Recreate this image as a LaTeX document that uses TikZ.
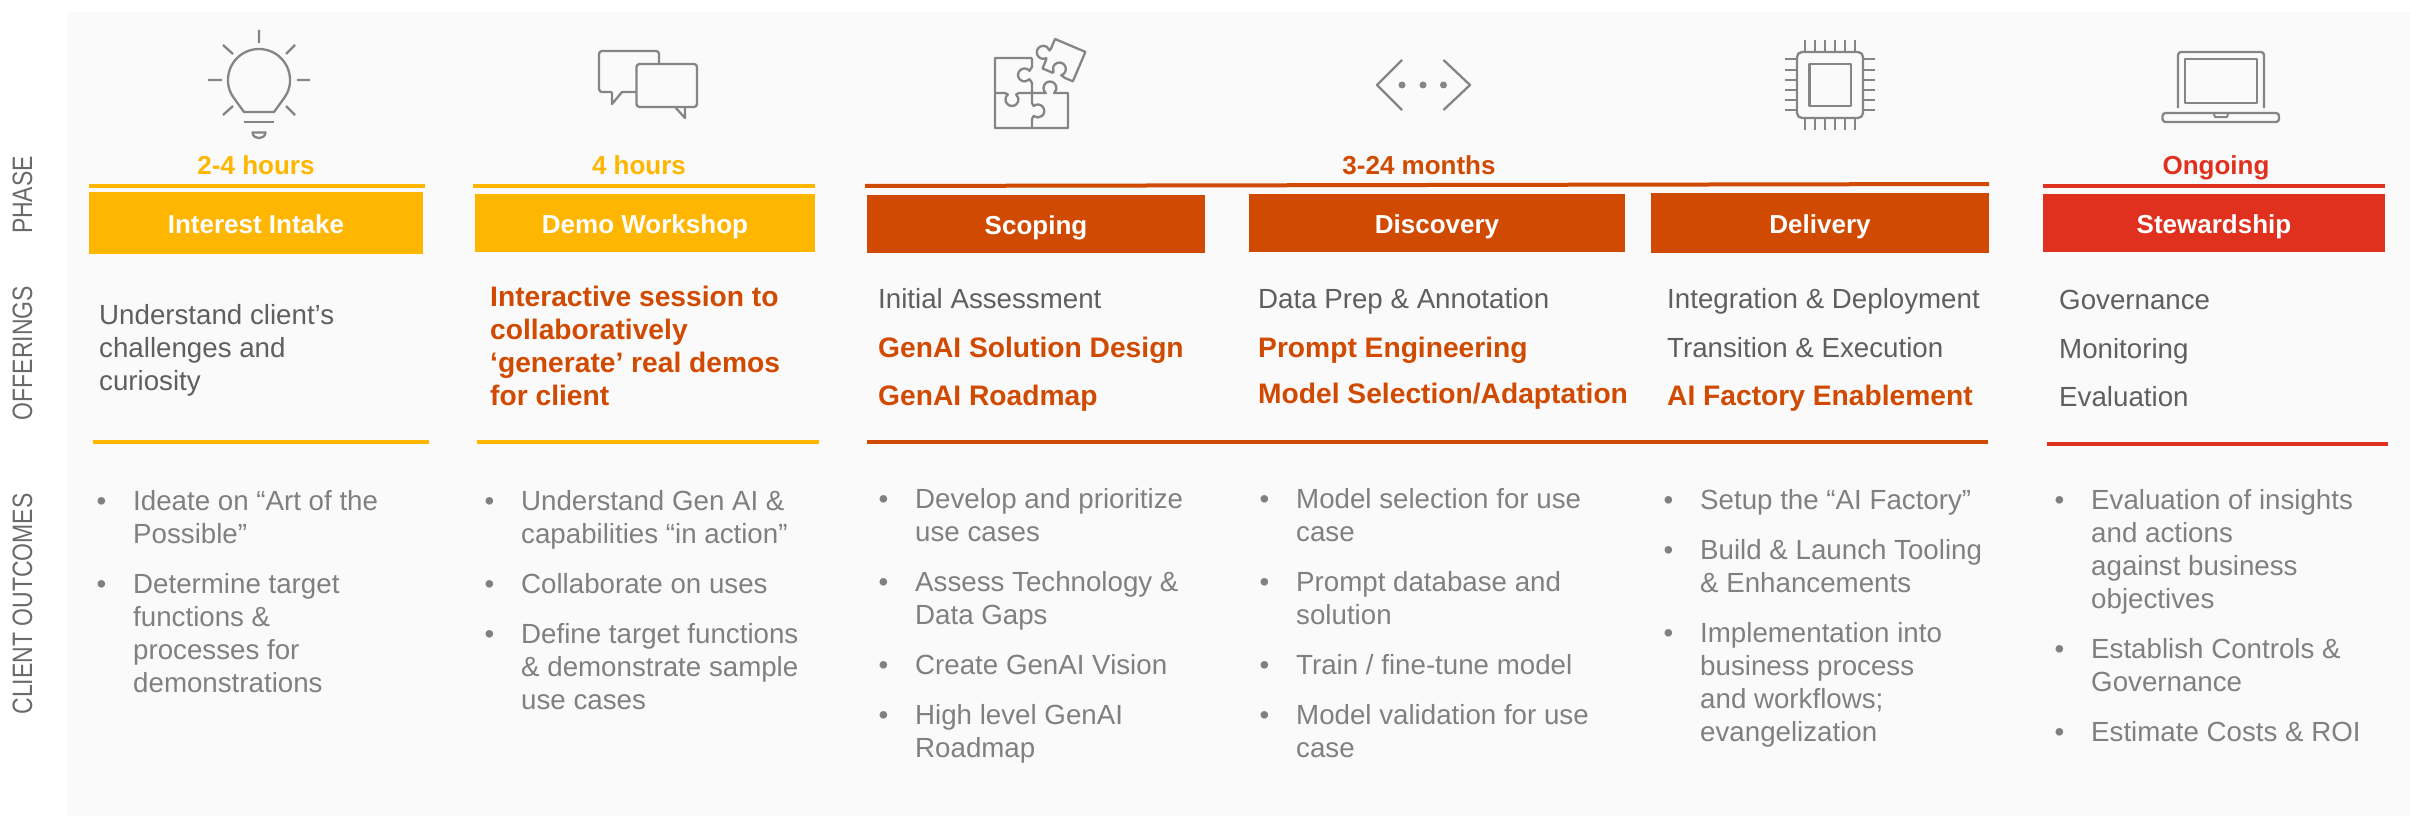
\documentclass[tikz,border=0pt]{standalone}
\usepackage{graphicx}
\usepackage{fontspec}
\setmainfont{Liberation Sans}
\definecolor{phaseyellow}{HTML}{FFB600}
\definecolor{phaseorange}{HTML}{D04A02}
\definecolor{phasered}{HTML}{E0301E}
\definecolor{panelgray}{HTML}{FAFAFA}
\definecolor{icongray}{HTML}{858585}
\definecolor{offergray}{HTML}{5F5F5F}
\definecolor{sidegray}{HTML}{6A6A6A}
\definecolor{outcomegray}{HTML}{808080}
\newcommand{\bul}{\makebox[0pt][r]{•\hspace{27pt}}}
\newcommand{\sidetext}[1]{\scalebox{1}[1.22]{#1}}
\begin{document}
\begin{tikzpicture}[x=1pt,y=-1pt,
            phasebar/.style={minimum height=58pt,inner sep=0pt,text=white,text height=24pt,text depth=4pt,
              font=\fontsize{26}{30}\selectfont\bfseries},
            timing/.style={anchor=base,font=\fontsize{26}{30}\selectfont\bfseries},
            rulebar/.style={line width=4pt},
            sidelabel/.style={anchor=base,rotate=90,text=sidegray,inner sep=0pt,font=\fontsize{23}{26}\selectfont},
            offer/.style={anchor=base west,align=left,inner sep=0pt,text=offergray,font=\fontsize{27.7}{33}\selectfont},
            offerbold/.style={offer,text=phaseorange,font=\fontsize{28.2}{33}\selectfont\bfseries},
            outcome/.style={anchor=base west,align=left,inner sep=0pt,text=outcomegray,font=\fontsize{27.7}{33}\selectfont},
            icon/.style={draw=icongray,line width=2.3pt,line join=round}]
              \useasboundingbox (0,0) rectangle (2410,816);
              \fill[panelgray] (67,12) rectangle (2410,816);

              \node[sidelabel] (phaselabel) at (32,195) {\sidetext{PHASE}};
              \node[sidelabel] (offerlabel) at (32,353) {\sidetext{OFFERINGS}};
              \node[sidelabel] (clientlabel) at (32,604) {\sidetext{CLIENT OUTCOMES}};

              \node[timing,text=phaseyellow] (timeintake) at (256,174) {2-4 hours};
              \node[timing,text=phaseyellow] (timedemo) at (639,174) {4 hours};
              \node[timing,text=phaseorange] (timeproject) at (1419,174) {3-24 months};
              \node[timing,text=phasered] (timesteward) at (2216,174) {Ongoing};

              \draw[rulebar,phaseyellow] (89,186) -- (425,186);
              \draw[rulebar,phaseyellow] (473,186) -- (815,186);
              \draw[rulebar,phaseorange] (865,186) -- (1989,184);
              \draw[rulebar,phasered] (2043,186) -- (2385,186);

              \node[phasebar,fill=phaseyellow,minimum width=334pt,minimum height=62pt] (intake) at (256,223) {Interest Intake};
              \node[phasebar,fill=phaseyellow,minimum width=340pt] (demo) at (645,223) {Demo Workshop};
              \node[phasebar,fill=phaseorange,minimum width=338pt] (scoping) at (1036,224) {Scoping};
              \node[phasebar,fill=phaseorange,minimum width=376pt] (discovery) at (1437,223) {Discovery};
              \node[phasebar,fill=phaseorange,minimum width=338pt,minimum height=60pt] (delivery) at (1820,223) {Delivery};
              \node[phasebar,fill=phasered,minimum width=342pt] (stewardship) at (2214,223) {Stewardship};

              \node[offer] (offerintake) at (99,390) {Understand client’s\\challenges and\\curiosity};
              \node[offerbold] (offerdemo) at (490,405) {Interactive session to\\collaboratively\\‘generate’ real demos\\for client};
              \node[offer] (scopinga) at (878,308) {Initial Assessment};
              \node[offerbold] (scopingb) at (878,357) {GenAI Solution Design};
              \node[offerbold] (scopingc) at (878,405) {GenAI Roadmap};
              \node[offer] (discoverya) at (1258,308) {Data Prep \& Annotation};
              \node[offerbold] (discoveryb) at (1258,357) {Prompt Engineering};
              \node[offerbold] (discoveryc) at (1258,403) {Model Selection/Adaptation};
              \node[offer] (deliverya) at (1667,308) {Integration \& Deployment};
              \node[offer] (deliveryb) at (1667,357) {Transition \& Execution};
              \node[offerbold] (deliveryc) at (1667,405) {AI Factory Enablement};
              \node[offer] (stewarda) at (2059,309) {Governance};
              \node[offer] (stewardb) at (2059,358) {Monitoring};
              \node[offer] (stewardc) at (2059,406) {Evaluation};

              \draw[rulebar,phaseyellow] (93,442) -- (429,442);
              \draw[rulebar,phaseyellow] (477,442) -- (819,442);
              \draw[rulebar,phaseorange] (867,442) -- (1988,442);
              \draw[rulebar,phasered] (2047,444) -- (2388,444);

              \node[outcome] (outintake) at (133,692) {\bul Ideate on “Art of the\\Possible”\\[17pt]
                \bul Determine target\\functions \&\\processes for\\demonstrations};
              \node[outcome] (outdemo) at (521,709) {\bul Understand Gen AI \&\\capabilities “in action”\\[17pt]
                \bul Collaborate on uses\\[17pt]
                \bul Define target functions\\\& demonstrate sample\\use cases};
              \node[outcome] (outscoping) at (915,757) {\bul Develop and prioritize\\use cases\\[17pt]
                \bul Assess Technology \&\\Data Gaps\\[17pt]
                \bul Create GenAI Vision\\[17pt]
                \bul High level GenAI\\Roadmap};
              \node[outcome] (outdiscovery) at (1296,757) {\bul Model selection for use\\case\\[17pt]
                \bul Prompt database and\\solution\\[17pt]
                \bul Train / fine-tune model\\[17pt]
                \bul Model validation for use\\case};
              \node[outcome] (outdelivery) at (1700,741) {\bul Setup the “AI Factory”\\[17pt]
                \bul Build \& Launch Tooling\\\& Enhancements\\[17pt]
                \bul Implementation into\\business process\\and workflows;\\evangelization};
              \node[outcome] (outsteward) at (2091,741) {\bul Evaluation of insights\\and actions\\against business\\objectives\\[17pt]
                \bul Establish Controls \&\\Governance\\[17pt]
                \bul Estimate Costs \& ROI};

              \draw[icon] (244,112) -- (236,101) .. controls (230,93) and (228,88) .. (228,80)
                arc[start angle=180,end angle=360,radius=31] .. controls (290,88) and (288,93) .. (282,101) -- (274,112) -- cycle;
              \draw[icon] (244,122) -- (274,122);
              \draw[icon] (252.5,132.5) -- (265.5,132.5) .. controls (265,140) and (253,140) .. cycle;
              \draw[icon] (259,30) -- (259,43) (208,80) -- (222,80) (297,80) -- (310,80)
                (223,45) -- (233,54) (295,45) -- (286,54) (233,106) -- (223,115) (286,106) -- (295,115);

              \draw[icon,rounded corners=3pt] (659,64) -- (659,51) -- (599,51) -- (599,92) -- (612,92);
              \draw[icon] (612,92) -- (612,104) -- (622,92) -- (636.5,92);
              \draw[icon,rounded corners=3pt] (675,107) -- (697,107) -- (697,64) -- (636.5,64) -- (636.5,107) -- (675,107);
              \draw[icon] (675,107) -- (685,118) -- (685,107);

              \draw[icon] (1032,58) -- (1032,67) -- (1029.5,70.8) arc[start angle=-40,end angle=-320,radius=6.5] -- (1032,83) -- (1032,103)
                -- (1033.6,106) arc[start angle=-130,end angle=130,radius=6.5] -- (1032,119) -- (1032,128);
              \draw[icon] (995,93) -- (1005,93) -- (1007.8,94.5) arc[start angle=230,end angle=-50,radius=6.5] -- (1019,93) -- (1032,93)
                -- (1045.8,93) arc[start angle=130,end angle=410,radius=6.5] -- (1068,93) -- (1068,128) -- (995,128) -- (995,58) -- (1032,58);
              \begin{scope}[shift={(1055,39)},rotate=-23]
                \draw[icon] (0,0) -- (33,0) -- (33,32) -- (24,32) -- (19.9,30.9) arc[start angle=50,end angle=-230,radius=6.5]
                  -- (11,32) -- (0,32) -- (0,23) -- (-0.6,21) arc[start angle=40,end angle=320,radius=6.5] -- (0,11) -- cycle;
              \end{scope}

              \draw[icon] (1402,60) -- (1377,85) -- (1402,110) (1443.5,60) -- (1470,85) -- (1443.5,110);
              \fill[icongray] (1402,85) circle (3.5) (1423,85) circle (3.5) (1443.5,85) circle (3.5);

              \draw[icon,rounded corners=5pt] (1797,52) rectangle (1863,118);
              \draw[icon] (1809.5,64) rectangle (1851,106);
              \draw[icon,line width=2pt] (1804.5,40) -- (1804.5,52) (1814.5,40) -- (1814.5,52) (1824.5,40) -- (1824.5,52)
                (1835,40) -- (1835,52) (1845,40) -- (1845,52) (1855,40) -- (1855,52);
              \draw[icon,line width=2pt] (1804.5,118) -- (1804.5,130) (1814.5,118) -- (1814.5,130) (1824.5,118) -- (1824.5,130)
                (1835,118) -- (1835,130) (1845,118) -- (1845,130) (1855,118) -- (1855,130);
              \draw[icon,line width=2pt] (1785,59.5) -- (1797,59.5) (1785,70) -- (1797,70) (1785,80) -- (1797,80)
                (1785,90) -- (1797,90) (1785,100) -- (1797,100) (1785,110) -- (1797,110);
              \draw[icon,line width=2pt] (1863,59.5) -- (1875,59.5) (1863,70) -- (1875,70) (1863,80) -- (1875,80)
                (1863,90) -- (1875,90) (1863,100) -- (1875,100) (1863,110) -- (1875,110);

              \draw[icon,rounded corners=3pt] (2178,108) -- (2178,52) -- (2264,52) -- (2264,108);
              \draw[icon] (2185,59) rectangle (2257,103);
              \draw[icon,rounded corners=3pt] (2162.5,113) -- (2162.5,122) -- (2279,122) -- (2279,113) -- cycle;
              \draw[icon,line width=2pt] (2213.5,113) -- (2215,117) -- (2227,117) -- (2228.5,113);
        \end{tikzpicture}
\end{document}
